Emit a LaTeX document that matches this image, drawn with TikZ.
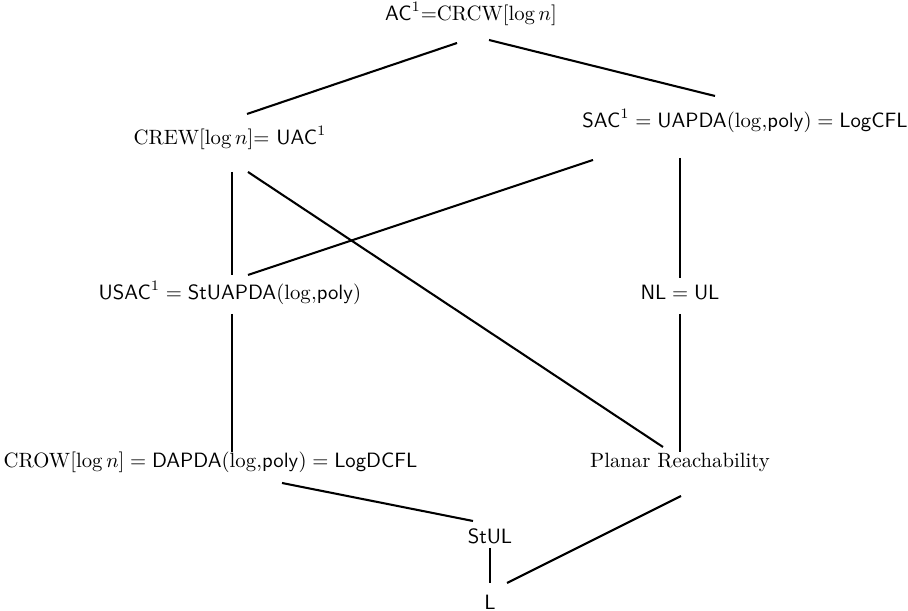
\documentclass[tikz,border=0pt]{standalone}
\usepackage{amsmath}

\tikzstyle{class}=[inner sep=0pt, outer sep=0pt]
\tikzstyle{inclusion}=[draw=black, line width=1pt]

\begin{document}
\begin{tikzpicture}[x=0.483pt, y=0.483pt]
	\useasboundingbox (0,0) rectangle (908,611);

	\node[class] (ac)       at (471,597)   {$\mathsf{AC}^1$=CRCW[$\log n$]};
	\node[class] (crew)     at (230,473)   {CREW[$\log n$]= $\mathsf{UAC}^1$};
	\node[class] (sac)      at (745,490)   {$\mathsf{SAC}^1 = \mathsf{UAPDA}(\mathrm{log}{,}\mathsf{poly}) = \mathsf{LogCFL}$};
	\node[class] (usac)     at (230,318)   {$\mathsf{USAC}^1 = \mathsf{StUAPDA}(\mathrm{log}{,}\mathsf{poly})$};
	\node[class] (nl)       at (680,319)   {$\mathsf{NL} = \mathsf{UL}$};
	\node[class] (crow)     at (210.5,149) {$\mathrm{CROW}[\log n] = \mathsf{DAPDA}(\mathrm{log}{,}\mathsf{poly}) = \mathsf{LogDCFL}$};
	\node[class] (planar)   at (680,149)   {Planar Reachability};
	\node[class] (stul)     at (490,75)    {$\mathsf{StUL}$};
	\node[class] (logspace) at (490,9)     {$\mathsf{L}$};

	\draw[inclusion] ([shift={(-14,-29)}]ac.center)   -- ([shift={(17,24)}]crew.center);
	\draw[inclusion] ([shift={(18,-26)}]ac.center)    -- ([shift={(-30,25)}]sac.center);
	\draw[inclusion] ([shift={(2,-34)}]crew.center)   -- ([shift={(2,18)}]usac.center);
	\draw[inclusion] ([shift={(18,-34)}]crew.center)  -- ([shift={(-17,15)}]planar.center);
	\draw[inclusion] ([shift={(-152,-39)}]sac.center) -- ([shift={(18,18)}]usac.center);
	\draw[inclusion] ([shift={(-65,-37)}]sac.center)  -- ([shift={(0,14)}]nl.center);
	\draw[inclusion] ([shift={(2,-21)}]usac.center)   -- ([shift={(21.5,10)}]crow.center);
	\draw[inclusion] ([shift={(0,-22)}]nl.center)     -- ([shift={(0,10)}]planar.center);
	\draw[inclusion] ([shift={(71.5,-21)}]crow.center) -- ([shift={(-17,15)}]stul.center);
	\draw[inclusion] ([shift={(0,-12)}]stul.center)   -- ([shift={(0,19)}]logspace.center);
	\draw[inclusion] ([shift={(1,-34)}]planar.center) -- ([shift={(17,19)}]logspace.center);
\end{tikzpicture}
\end{document}
